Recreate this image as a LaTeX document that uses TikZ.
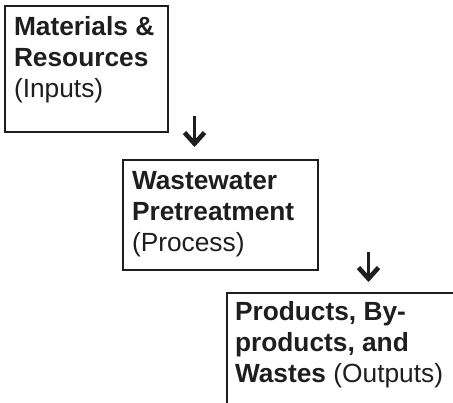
\documentclass[tikz,border=0pt]{standalone}
\usepackage{fontspec}
\setmainfont{Liberation Sans}
\usetikzlibrary{arrows.meta}
\definecolor{ink}{HTML}{1E1E1E}
\tikzset{
  boxframe/.style={draw=ink, line width=2.2bp, inner sep=0pt, outer sep=0pt, anchor=north west, fill=none},
  linetxt/.style={inner sep=0pt, outer sep=0pt, anchor=base west, text=ink, font=\fontsize{26.3bp}{31bp}\selectfont},
  downarrow/.style={draw=ink, line width=3.2bp, -{Straight Barb[length=11bp, width=20bp, line width=4.6bp]}}
}
\begin{document}
\begin{tikzpicture}[x=1bp, y=-1bp]
\useasboundingbox (0,0) rectangle (453,402);
\clip (0,0) rectangle (453,402);
% boxes
\node[boxframe, minimum width=163bp, minimum height=126bp] (b1) at (5,6) {};
\node[boxframe, minimum width=195bp, minimum height=110bp] (b2) at (123,160) {};
\node[boxframe, minimum width=240bp, minimum height=130bp] (b3) at (227,293) {};
% texts
\node[linetxt] (t11) at (14,35) {\textbf{Materials \&}};
\node[linetxt] (t12) at (14,66) {\textbf{Resources}};
\node[linetxt] (t13) at (14,97) {(Inputs)};
\node[linetxt] (t21) at (132,189) {\textbf{Wastewater}};
\node[linetxt] (t22) at (132,220) {\textbf{Pretreatment}};
\node[linetxt] (t23) at (132,251) {(Process)};
\node[linetxt] (t31) at (235,320) {\textbf{Products, By-}};
\node[linetxt] (t32) at (235,351) {\textbf{products, and}};
\node[linetxt] (t33) at (235,382) {\textbf{Wastes} (Outputs)};
% arrows
\coordinate (a1s) at (194.5,116);
\coordinate (a1e) at (194.5,147);
\coordinate (a2s) at (368.5,252);
\coordinate (a2e) at (368.5,282);
\draw[downarrow] (a1s) -- (a1e);
\draw[downarrow] (a2s) -- (a2e);
\end{tikzpicture}
\end{document}
